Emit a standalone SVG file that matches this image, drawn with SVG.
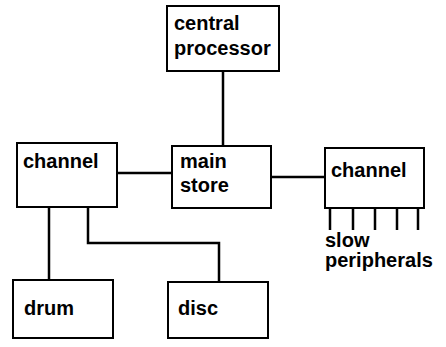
<svg xmlns="http://www.w3.org/2000/svg" width="446" height="347" viewBox="0 0 446 347">
<style>
.box{fill:#fff;stroke:#000;stroke-width:2}
.t{font-family:"Liberation Sans",Arial,sans-serif;font-weight:bold;font-size:20px;fill:#000}
.ln{fill:none;stroke:#000;stroke-width:2.5}
</style>
<rect width="446" height="347" fill="#fff"/>
<g id="connectors">
<path class="ln" d="M223 71V146"/>
<path class="ln" d="M117 173H172"/>
<path class="ln" d="M271 177H325"/>
<path class="ln" d="M49 207V280"/>
<path class="ln" d="M88 207V243H219V282"/>
<path class="ln" d="M330 208V230M353 208V230M375 208V230M397 208V230M418 208V230"/>
</g>
<g id="central-processor"><rect class="box" x="167" y="6" width="112" height="65"/><text class="t" x="174" y="30">central</text><text class="t" x="174" y="55">processor</text></g>
<g id="channel-left"><rect class="box" x="17" y="143" width="100" height="64"/><text class="t" x="23" y="168">channel</text></g>
<g id="main-store"><rect class="box" x="172" y="146" width="99" height="62"/><text class="t" x="180" y="168">main</text><text class="t" x="180" y="192">store</text></g>
<g id="channel-right"><rect class="box" x="325" y="148" width="99" height="60"/><text class="t" x="331" y="177">channel</text></g>
<g id="drum"><rect class="box" x="13" y="280" width="100" height="58"/><text class="t" x="24" y="315">drum</text></g>
<g id="disc"><rect class="box" x="168" y="282" width="100" height="56"/><text class="t" x="178" y="315">disc</text></g>
<g id="slow-peripherals"><text class="t" x="325" y="247">slow</text><text class="t" x="325" y="267">peripherals</text></g>
</svg>
